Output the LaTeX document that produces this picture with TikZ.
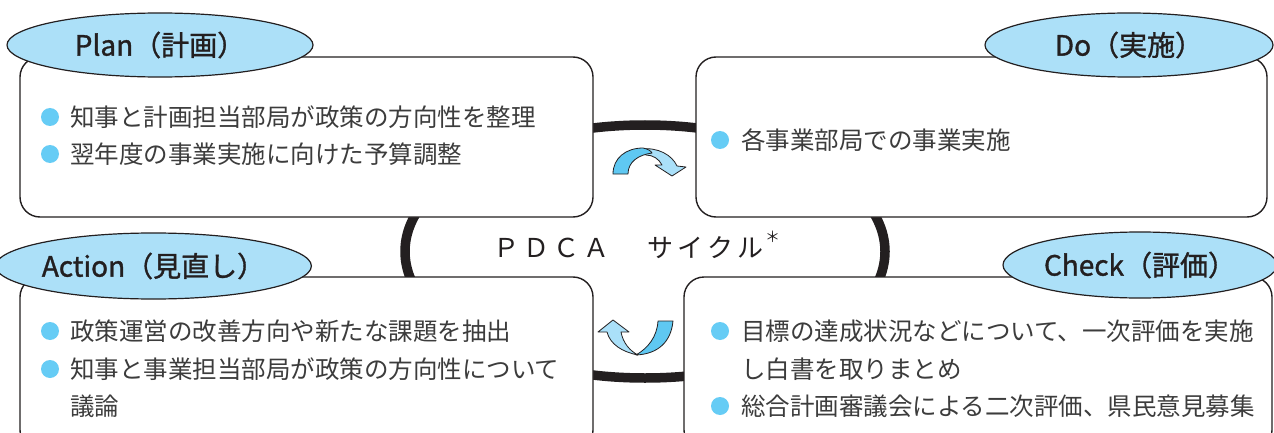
\documentclass[tikz,border=0pt]{standalone}
\usepackage{fontspec}
\setmainfont{Noto Sans CJK JP}
\newfontfamily\lblfont[FakeBold=1.2]{Noto Sans CJK JP}
\usetikzlibrary{shapes.geometric}
\definecolor{ellfill}{RGB}{172,224,248}
\definecolor{bulc}{RGB}{102,204,245}
\definecolor{arrdark}{RGB}{95,200,242}
\definecolor{arrlight}{RGB}{170,224,249}
\definecolor{txt}{RGB}{35,31,32}
\definecolor{bodyc}{RGB}{60,60,60}
\begin{document}
\begin{tikzpicture}[x=1pt,y=1pt,
  box/.style={draw=txt, line width=1.4pt, rounded corners=20pt, fill=white, inner sep=0pt},
  label/.style={ellipse, draw=txt, line width=1.2pt, fill=ellfill, inner sep=0pt, font=\lblfont\fontsize{28}{28}\selectfont, text=txt},
  body/.style={anchor=west, inner sep=0pt, font=\fontsize{24.5}{24.5}\selectfont, text=bodyc},
  bullet/.style={circle, fill=bulc, inner sep=0pt, minimum size=18pt},
  ring/.style={draw=txt, line width=9.5pt},
  arr/.style={draw=txt, line width=0.8pt, line join=round}]

\useasboundingbox (0,0) rectangle (1274,-433);
\fill[white] (0,0) rectangle (1274,-433);

% central ring
\draw[ring] (645,-251.5) ellipse [x radius=240pt, y radius=126.5pt];

% boxes
\node[box, minimum width=573pt, minimum height=160pt] (planbox) at (306.5,-137) {};
\node[box, minimum width=571pt, minimum height=160pt] (dobox) at (981.5,-137) {};
\node[box, minimum width=573pt, minimum height=173pt] (actbox) at (306.5,-363.5) {};
\node[box, minimum width=588pt, minimum height=173pt] (chkbox) at (978,-363.5) {};

% labels
\node[label, minimum width=306pt, minimum height=64pt] (plan) at (160,-45) {Plan（計画）};
\node[label, minimum width=288pt, minimum height=64pt] (do) at (1129,-45) {Do（実施）};
\node[label, minimum width=287pt, minimum height=66pt] (act) at (153.5,-266) {Action（見直し）};
\node[label, minimum width=274pt, minimum height=66pt] (chk) at (1140,-265) {Check（評価）};

% Plan text
\node[bullet] (pb1) at (50,-117) {};
\node[bullet] (pb2) at (50,-154) {};
\node[body] (p1) at (70,-117) {知事と計画担当部局が政策の方向性を整理};
\node[body] (p2) at (70,-154) {翌年度の事業実施に向けた予算調整};

% Do text
\node[bullet] (db1) at (720,-140) {};
\node[body] (d1) at (741,-140) {各事業部局での事業実施};

% Action text
\node[bullet] (ab1) at (50,-331) {};
\node[bullet] (ab2) at (50,-369) {};
\node[body] (a1) at (70,-331) {政策運営の改善方向や新たな課題を抽出};
\node[body] (a2) at (70,-369) {知事と事業担当部局が政策の方向性について};
\node[body] (a3) at (70,-406) {議論};

% Check text
\node[bullet] (cb1) at (720,-331) {};
\node[bullet] (cb2) at (720,-406) {};
\node[body] (c1) at (741,-331) {目標の達成状況などについて、一次評価を実施};
\node[body] (c2) at (741,-369) {し白書を取りまとめ};
\node[body] (c3) at (741,-406) {総合計画審議会による二次評価、県民意見募集};

% PDCA title
\node[anchor=west, inner sep=0pt, font=\fontsize{26}{26}\selectfont, text=txt] (pdca) at (493,-245)
  {Ｐ\kern4pt Ｄ\kern4pt Ｃ\kern4pt Ａ\kern38pt サ\kern4pt イ\kern4pt ク\kern4pt ル\kern2pt\raisebox{15pt}{\fontsize{15}{15}\selectfont ＊}};

% top curved arrow (Plan -> Do)
\filldraw[arr, fill=arrlight] (641,-149) .. controls (658,-147) and (672,-155) .. (677,-166)
  -- (686,-167) -- (672,-176) -- (655,-165) -- (662,-165)
  .. controls (659,-159) and (653,-155) .. (646,-155) -- cycle;
\filldraw[arr, fill=arrdark] (613,-174) .. controls (613,-158) and (626,-148) .. (643,-148)
  .. controls (648,-149) and (651,-151) .. (652,-153)
  .. controls (638,-155) and (628,-162) .. (628,-174) -- cycle;

% bottom curved arrow (Check -> Action)
\filldraw[arr, fill=arrlight] (638,-355) .. controls (622,-352) and (610,-344) .. (607,-332)
  -- (598,-332) -- (613,-320) -- (629,-332) -- (621,-332)
  .. controls (623,-343) and (630,-351) .. (638,-355) -- cycle;
\filldraw[arr, fill=arrdark] (658,-321) -- (673,-321) .. controls (671,-342) and (658,-354) .. (636,-355)
  .. controls (648,-348) and (657,-337) .. (658,-321) -- cycle;
\end{tikzpicture}
\end{document}
